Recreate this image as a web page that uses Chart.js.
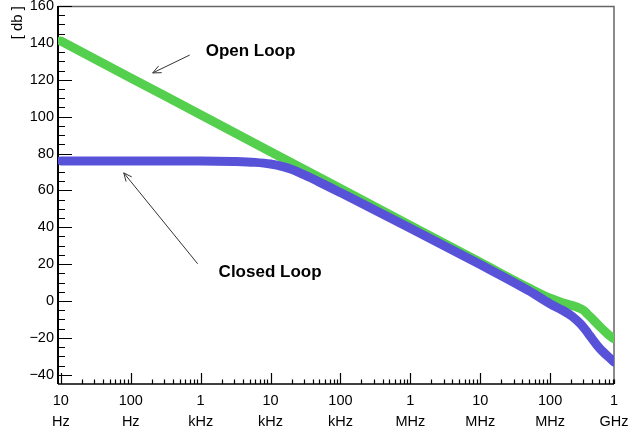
<!DOCTYPE html>
<html><head><meta charset="utf-8">
<script src="https://cdn.jsdelivr.net/npm/chart.js@4"></script>
<style>html,body{margin:0;padding:0;background:#fff}#wrap{width:629px;height:432px}</style>
</head><body><div id="wrap"><canvas id="c" width="629" height="432"></canvas></div>
<script>
// ---- data ----
const openLoopFreq = [10, 100, 1e3, 1e4, 1e5, 1e6, 1e7, 5e7, 1e8, 1.4e8, 1.9e8, 2.5e8, 3e8, 3.5e8, 4.1e8, 5.2e8, 6.5e8, 7.5e8, 8.2e8];
const openLoopDb   = [141, 121, 101, 81, 61, 41, 21, 7, 1.5, -0.5, -2, -3.5, -5, -7.5, -10, -14, -17.5, -19.5, -20.5];
const closedLoopFreq = [10, 100, 1e3, 3e3, 6e3, 1e4, 1.5e4, 2e4, 3e4, 5e4, 1e5, 1e6, 1e7, 5e7, 1e8, 1.5e8, 2.1e8, 2.7e8, 3.2e8, 3.73e8, 4.7e8, 5.7e8, 7e8, 8.2e8];
const closedLoopDb   = [76, 76, 76, 75.7, 75.2, 74.3, 72.9, 71.4, 68.5, 64.5, 58.8, 39.5, 19.8, 5.5, -1.5, -5, -8.5, -12.3, -15.6, -19, -24, -27.5, -30.6, -33];

const xTickValues = [10, 100, 1e3, 1e4, 1e5, 1e6, 1e7, 1e8, 8.2e8];
const xTickLabels = [["10","Hz"],["100","Hz"],["1","kHz"],["10","kHz"],["100","kHz"],["1","MHz"],["10","MHz"],["100","MHz"],["1","GHz"]];
const xAxisMin = 9.1, xAxisMax = 8.2e8;
const yAxisMin = -45, yAxisMax = 160;
const yLabelStep = 20, yMinorStep = 5;
const yTitle = "[ db ]";

const noteTexts = ["Open Loop", "Closed Loop"];
const noteTextAt = [[1180, 135.6], [1807, 15.8]];      // [freq, dB] of text left-middle
const noteArrowTail = [[697, 133.4], [906, 20.2]];
const noteArrowHead = [[206, 123.7], [79.4, 69.5]];

const FONT = "'Liberation Sans', Arial, Helvetica, sans-serif";

function pts(xs, ys){ return xs.map((x,i)=>({x:x, y:ys[i]})); }

function buildXTicks(){
  const out = [];
  for (let d = 1; d <= 8; d++) for (let m = 1; m <= 9; m++) {
    const v = m * Math.pow(10, d);
    if (v >= xAxisMin && v < xAxisMax) out.push(v);
  }
  out.push(xAxisMax);
  return out;
}

const framePlugin = {
  id: 'frame',
  beforeDatasetsDraw(chart){
    const {ctx, chartArea:a, scales:{x, y}} = chart;
    ctx.save();
    ctx.strokeStyle = '#666'; ctx.lineWidth = 1.5;
    ctx.beginPath(); ctx.moveTo(a.left, a.top+0.5); ctx.lineTo(a.right, a.top+0.5); ctx.lineTo(a.right, a.bottom); ctx.stroke();
    ctx.strokeStyle = '#000'; ctx.lineWidth = 1.2;
    ctx.beginPath();
    y.ticks.forEach(t => {
      const py = Math.round(y.getPixelForValue(t.value)) + 0.5;
      const len = (t.value % yLabelStep === 0) ? 14 : 7;
      ctx.moveTo(a.left, py); ctx.lineTo(a.left + len, py);
    });
    x.ticks.forEach(t => {
      const px = Math.round(x.getPixelForValue(t.value)) + 0.5;
      const m = t.value / Math.pow(10, Math.floor(Math.log10(t.value) + 1e-9));
      const len = (Math.abs(m - 1) < 1e-6) ? 11 : 4.5;
      ctx.moveTo(px, a.bottom); ctx.lineTo(px, a.bottom - len);
    });
    ctx.stroke();
    ctx.lineWidth = 2;
    ctx.beginPath(); ctx.moveTo(a.left, a.top); ctx.lineTo(a.left, a.bottom); ctx.stroke();
    ctx.lineWidth = 1.5;
    ctx.beginPath(); ctx.moveTo(a.left, a.bottom); ctx.lineTo(a.right, a.bottom); ctx.stroke();
    ctx.restore();
  },
  afterDraw(chart){
    const {ctx, scales:{x, y}} = chart;
    ctx.save();
    ctx.strokeStyle = '#333'; ctx.lineWidth = 1;
    noteTexts.forEach((txt, i) => {
      const tx = x.getPixelForValue(noteArrowTail[i][0]), ty = y.getPixelForValue(noteArrowTail[i][1]);
      const hx = x.getPixelForValue(noteArrowHead[i][0]), hy = y.getPixelForValue(noteArrowHead[i][1]);
      const ang = Math.atan2(hy - ty, hx - tx), L = 9, s = 0.42;
      ctx.beginPath();
      ctx.moveTo(tx, ty); ctx.lineTo(hx, hy);
      ctx.moveTo(hx - L*Math.cos(ang - s), hy - L*Math.sin(ang - s)); ctx.lineTo(hx, hy);
      ctx.lineTo(hx - L*Math.cos(ang + s), hy - L*Math.sin(ang + s));
      ctx.stroke();
      ctx.fillStyle = '#000';
      ctx.font = 'bold 17px ' + FONT;
      ctx.textAlign = 'left'; ctx.textBaseline = 'middle';
      ctx.fillText(txt, x.getPixelForValue(noteTextAt[i][0]), y.getPixelForValue(noteTextAt[i][1]));
    });
    ctx.restore();
  }
};

new Chart(document.getElementById('c'), {
  type: 'line',
  data: {
    datasets: [
      { label: 'Open Loop', order: 2, data: pts(openLoopFreq, openLoopDb), borderColor: 'rgb(84,208,78)', borderWidth: 9,
        pointRadius: 0, cubicInterpolationMode: 'monotone', borderCapStyle: 'round', borderJoinStyle: 'round', fill: false },
      { label: 'Closed Loop', order: 1, data: pts(closedLoopFreq, closedLoopDb), borderColor: 'rgb(88,82,216)', borderWidth: 9,
        pointRadius: 0, cubicInterpolationMode: 'monotone', borderCapStyle: 'round', borderJoinStyle: 'round', fill: false }
    ]
  },
  options: {
    responsive: false, animation: false, devicePixelRatio: 1,
    layout: { padding: { top: 6, right: 15, left: 0, bottom: 0 } },
    plugins: { legend: { display: false }, tooltip: { enabled: false } },
    scales: {
      x: {
        type: 'logarithmic', min: xAxisMin, max: xAxisMax,
        grid: { display: false, drawTicks: false }, border: { display: false },
        afterBuildTicks: s => { s.ticks = buildXTicks().map(v => ({ value: v })); },
        afterFit: s => { s.height = 48; s.paddingLeft = 0; s.paddingRight = 0; },
        ticks: {
          autoSkip: false, maxRotation: 0, minRotation: 0, padding: 6, color: '#000',
          font: { family: FONT, size: 14.5, lineHeight: 1.45 },
          callback: (v) => {
            const i = xTickValues.findIndex(t => Math.abs(t - v) / t < 1e-6);
            return i >= 0 ? xTickLabels[i] : '';
          }
        }
      },
      y: {
        type: 'linear', min: yAxisMin, max: yAxisMax,
        grid: { display: false, drawTicks: false }, border: { display: false },
        afterBuildTicks: s => {
          const t = [];
          for (let v = -40; v <= yAxisMax; v += yMinorStep) t.push({ value: v });
          s.ticks = t;
        },
        afterFit: s => { s.width = 58; s.paddingTop = 0; s.paddingBottom = 0; },
        title: { display: true, text: yTitle, align: 'end', color: '#000', font: { family: FONT, size: 15 }, padding: { top: 9, bottom: 0 } },
        ticks: {
          autoSkip: false, padding: 4, color: '#000',
          font: { family: FONT, size: 14.5 },
          callback: v => (v % yLabelStep === 0 ? String(v).replace('-', '\u2212') : '')
        }
      }
    }
  },
  plugins: [framePlugin]
});
</script>
</body></html>
